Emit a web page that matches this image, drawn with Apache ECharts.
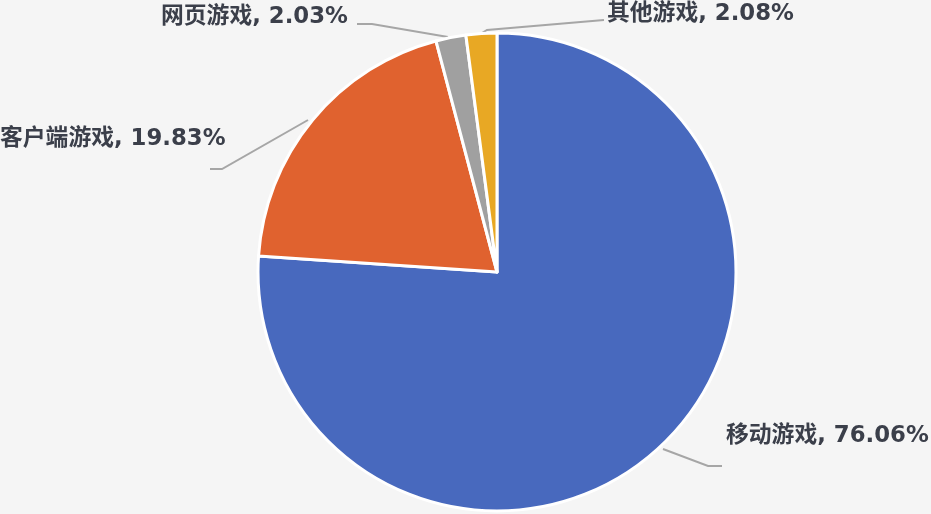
<!DOCTYPE html>
<html><head><meta charset="utf-8">
<script src="https://cdn.jsdelivr.net/npm/echarts@6/dist/echarts.min.js"></script>
<style>html,body{margin:0;padding:0;background:#f5f5f5}#c{width:931px;height:514px}</style>
</head><body><div id="c"></div>
<script>
const categories = ['移动游戏', '客户端游戏', '网页游戏', '其他游戏'];
const shares = [76.06, 19.83, 2.03, 2.08];
const colors = ['#4869BE', '#E0622F', '#A0A0A0', '#E8A824'];

const labelPos = [
  {x: 726, y: 436, lines: [[663,449],[708,466],[722,466]]},
  {x: 0, y: 139, lines: [[308,120],[222,169],[210,169]]},
  {x: 161, y: 17, lines: [[448,37],[372,24],[357,24]]},
  {x: 607, y: 14, lines: [[482,33],[487,30],[604,20]]}
];

const chart = echarts.init(document.getElementById('c'));
chart.setOption({
  backgroundColor: '#f5f5f5',
  animation: false,
  series: [{
    type: 'pie',
    center: [497, 272],
    radius: 239,
    startAngle: 90,
    clockwise: true,
    data: categories.map((n, i) => ({name: n, value: shares[i], itemStyle: {color: colors[i]}})),
    itemStyle: {borderColor: '#ffffff', borderWidth: 3},
    label: {
      show: true,
      formatter: p => p.name + ', ' + p.value.toFixed(2) + '%',
      fontFamily: '"DejaVu Sans", "Noto Sans CJK SC", sans-serif',
      fontWeight: 'bold',
      fontSize: 22.8,
      color: '#3b3f4a'
    },
    labelLine: {show: true, lineStyle: {color: '#a6a6a6', width: 2}},
    labelLayout: function (params) {
      const p = labelPos[params.dataIndex];
      return {x: p.x, y: p.y, align: 'left', verticalAlign: 'middle', labelLinePoints: p.lines};
    }
  }]
});
</script></body></html>
